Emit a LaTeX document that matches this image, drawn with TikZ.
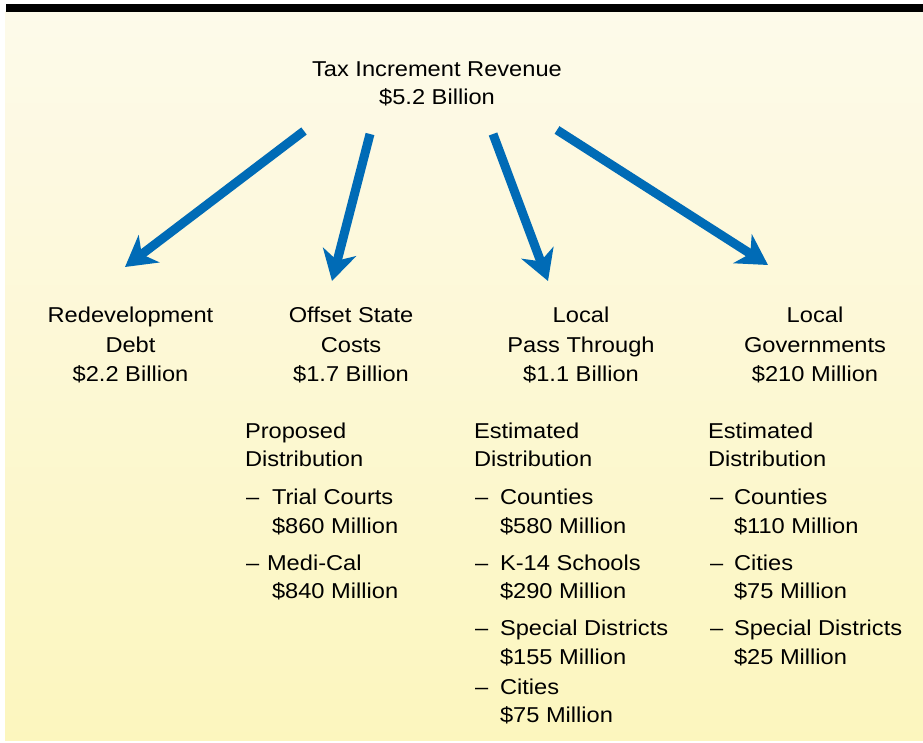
\documentclass[tikz,border=0pt]{standalone}
\usepackage{fontspec}
\setmainfont[FakeStretch=1.1]{Liberation Sans}
\usetikzlibrary{arrows.meta}
\definecolor{arrowblue}{RGB}{0,107,182}
\definecolor{bgtop}{RGB}{253,250,234}
\definecolor{bgbot}{RGB}{252,246,190}
\tikzset{
  txt/.style={inner sep=0pt, outer sep=0pt, font=\fontsize{21.5}{29}\selectfont, text=black},
  ctr/.style={txt, anchor=base},
  lft/.style={txt, anchor=base west},
  flow/.style={draw=arrowblue, line width=9pt, -{Stealth[length=30pt,width=34pt,inset=9pt]}}
}
\begin{document}
\begin{tikzpicture}[x=1pt,y=-1pt]
\useasboundingbox (0,0) rectangle (923,743);
% background
\shade[top color=bgtop, bottom color=bgbot] (5,12) rectangle (923,740);
\fill[black] (6,4) rectangle (923,12);

% top
\node[ctr] (t1) at (437,76.5) {Tax Increment Revenue};
\node[ctr] (t2) at (437,105) {\$5.2 Billion};

% column headers
\node[ctr] (r1) at (130.5,322.5) {Redevelopment};
\node[ctr] (r2) at (130.5,352) {Debt};
\node[ctr] (r3) at (130.5,381) {\$2.2 Billion};

\node[ctr] (o1) at (351,322.5) {Offset State};
\node[ctr] (o2) at (351,352) {Costs};
\node[ctr] (o3) at (351,381) {\$1.7 Billion};

\node[ctr] (p1) at (581,322.5) {Local};
\node[ctr] (p2) at (581,352) {Pass Through};
\node[ctr] (p3) at (581,381) {\$1.1 Billion};

\node[ctr] (g1) at (815,322.5) {Local};
\node[ctr] (g2) at (815,352) {Governments};
\node[ctr] (g3) at (815,381) {\$210 Million};

% column 2 list
\node[lft] (oa) at (245,438.5) {Proposed};
\node[lft] (ob) at (245,466.5) {Distribution};
\node[lft] (od1) at (246,504) {–};
\node[lft] (oc) at (272,504) {Trial Courts};
\node[lft] (oc2) at (272,533) {\$860 Million};
\node[lft] (od2) at (246,570) {–};
\node[lft] (om) at (267,570) {Medi-Cal};
\node[lft] (om2) at (272,598.5) {\$840 Million};

% column 3 list
\node[lft] (pa) at (474,438.5) {Estimated};
\node[lft] (pb) at (474,466.5) {Distribution};
\node[lft] (pd1) at (475,504) {–};
\node[lft] (pc) at (500,504) {Counties};
\node[lft] (pc2) at (500,533) {\$580 Million};
\node[lft] (pd2) at (475,570) {–};
\node[lft] (pk) at (500,570) {K-14 Schools};
\node[lft] (pk2) at (500,598.5) {\$290 Million};
\node[lft] (pd3) at (475,635) {–};
\node[lft] (ps) at (500,635) {Special Districts};
\node[lft] (ps2) at (500,664) {\$155 Million};
\node[lft] (pd4) at (475,694) {–};
\node[lft] (pci) at (500,694) {Cities};
\node[lft] (pci2) at (500,722) {\$75 Million};

% column 4 list
\node[lft] (ga) at (708,438.5) {Estimated};
\node[lft] (gb) at (708,466.5) {Distribution};
\node[lft] (gd1) at (710,504) {–};
\node[lft] (gc) at (734,504) {Counties};
\node[lft] (gc2) at (734,533) {\$110 Million};
\node[lft] (gd2) at (710,570) {–};
\node[lft] (gci) at (734,570) {Cities};
\node[lft] (gci2) at (734,598.5) {\$75 Million};
\node[lft] (gd3) at (710,635) {–};
\node[lft] (gs) at (734,635) {Special Districts};
\node[lft] (gs2) at (734,664) {\$25 Million};

% arrows
\coordinate (a1s) at (304,131);
\coordinate (a1e) at (125,267);
\coordinate (a2s) at (370,134);
\coordinate (a2e) at (332,281);
\coordinate (a3s) at (493,134);
\coordinate (a3e) at (548,281);
\coordinate (a4s) at (557,130);
\coordinate (a4e) at (768,265);
\draw[flow] (a1s) -- (a1e);
\draw[flow] (a2s) -- (a2e);
\draw[flow] (a3s) -- (a3e);
\draw[flow] (a4s) -- (a4e);
\end{tikzpicture}
\end{document}
